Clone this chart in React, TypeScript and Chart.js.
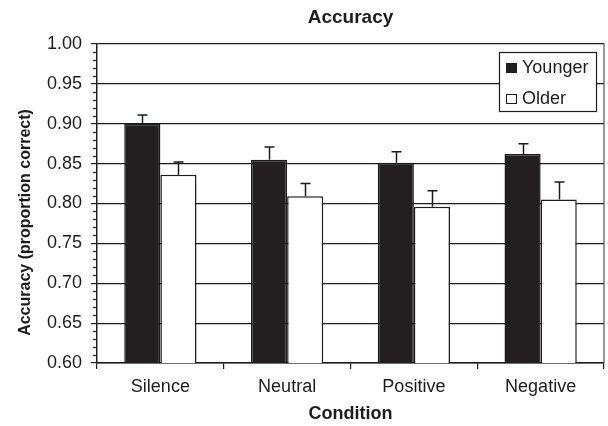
import React, { useEffect, useRef } from "react";
import { Chart, registerables } from "chart.js";

Chart.register(...registerables);

const categories = ["Silence", "Neutral", "Positive", "Negative"];
const youngerValues = [0.9, 0.855, 0.851, 0.862];
const olderValues = [0.836, 0.809, 0.796, 0.805];
const youngerErrors = [0.011, 0.016, 0.014, 0.013];
const olderErrors = [0.016, 0.016, 0.02, 0.022];
const seriesNames = ["Younger", "Older"];
const yMin = 0.6;
const yMax = 1.0;
const yStep = 0.05;

const FONT = "'Liberation Sans', Arial, Helvetica, sans-serif";
const INK = "#1c1c1c";

const errorBarsPlugin = {
  id: "errorBars",
  afterDatasetsDraw(chart: any) {
    const ctx = chart.ctx;
    const yScale = chart.scales.y;
    const errs = [youngerErrors, olderErrors];
    ctx.save();
    ctx.strokeStyle = INK;
    ctx.lineWidth = 1.5;
    chart.data.datasets.forEach((ds: any, i: number) => {
      const meta = chart.getDatasetMeta(i);
      meta.data.forEach((el: any, j: number) => {
        const v = ds.data[j];
        const top = yScale.getPixelForValue(v + errs[i][j]);
        const x = Math.round(el.x) + 0.5;
        ctx.beginPath();
        ctx.moveTo(x, el.y);
        ctx.lineTo(x, top);
        ctx.moveTo(x - 5, top);
        ctx.lineTo(x + 5, top);
        ctx.stroke();
      });
    });
    ctx.restore();
  },
};

const decorPlugin = {
  id: "decor",
  afterDraw(chart: any) {
    const ctx = chart.ctx;
    const area = chart.chartArea;
    const yScale = chart.scales.y;
    ctx.save();
    // minor ticks
    ctx.strokeStyle = INK;
    ctx.lineWidth = 1.2;
    for (let i = Math.round(yMin * 100); i <= Math.round(yMax * 100); i++) {
      if (i % 5 === 0) continue;
      const y = Math.round(yScale.getPixelForValue(i / 100)) + 0.5;
      ctx.beginPath();
      ctx.moveTo(area.left - 4, y);
      ctx.lineTo(area.left, y);
      ctx.stroke();
    }
    // right border
    ctx.strokeStyle = "#555";
    ctx.lineWidth = 1.2;
    ctx.beginPath();
    ctx.moveTo(area.right, area.top);
    ctx.lineTo(area.right, area.bottom);
    ctx.stroke();
    // y axis title
    ctx.fillStyle = INK;
    ctx.font = `bold 16px ${FONT}`;
    ctx.textAlign = "center";
    ctx.textBaseline = "middle";
    ctx.translate(26, (area.top + area.bottom) / 2 + 19);
    ctx.rotate(-Math.PI / 2);
    ctx.fillText("Accuracy (proportion correct)", 0, 0);
    ctx.restore();

    // legend
    ctx.save();
    const w = 97;
    const h = 59;
    const bx = area.right - 8 - w;
    const by = area.top + 8;
    ctx.fillStyle = "#fff";
    ctx.fillRect(bx, by, w, h);
    ctx.strokeStyle = INK;
    ctx.lineWidth = 1.2;
    ctx.strokeRect(bx + 0.5, by + 0.5, w, h);
    ctx.font = `18px ${FONT}`;
    ctx.textAlign = "left";
    ctx.textBaseline = "middle";
    chart.data.datasets.forEach((ds: any, i: number) => {
      const cy = by + 16 + i * 31;
      ctx.fillStyle = ds.backgroundColor;
      ctx.fillRect(bx + 7, cy - 5, 11, 10);
      ctx.strokeStyle = INK;
      ctx.lineWidth = 1;
      ctx.strokeRect(bx + 7.5, cy - 4.5, 10, 9);
      ctx.fillStyle = INK;
      ctx.fillText(ds.label, bx + 23, cy);
    });
    ctx.restore();
  },
};

export default function App() {
  const ref = useRef<HTMLCanvasElement | null>(null);
  useEffect(() => {
    document.body.style.margin = "0";
    if (!ref.current) return;
    const chart = new Chart(ref.current, {
      type: "bar",
      data: {
        labels: categories,
        datasets: [
          {
            label: seriesNames[0],
            data: youngerValues,
            backgroundColor: "#231f20",
            borderColor: INK,
            borderWidth: 1.5,
          },
          {
            label: seriesNames[1],
            data: olderValues,
            backgroundColor: "#ffffff",
            borderColor: INK,
            borderWidth: 1.5,
          },
        ],
      },
      options: {
        animation: false,
        responsive: false,
        devicePixelRatio: 1,
        layout: { padding: { top: 0, left: 0, right: 4, bottom: 0 } },
        datasets: { bar: { categoryPercentage: 0.57, barPercentage: 1.0 } },
        plugins: {
          legend: { display: false },
          tooltip: { enabled: false },
          title: {
            display: true,
            text: "Accuracy",
            fullSize: false,
            color: INK,
            font: { family: FONT, size: 19, weight: "bold" },
            padding: { top: 6, bottom: 15.2 },
          },
        },
        scales: {
          x: {
            grid: {
              display: true,
              drawOnChartArea: false,
              drawTicks: true,
              tickLength: 6,
              color: INK,
              lineWidth: 1.2,
              offset: true,
            },
            border: { display: true, color: INK, width: 1.5 },
            ticks: {
              color: INK,
              font: { family: FONT, size: 18 },
              padding: 7,
            },
            title: {
              display: true,
              text: "Condition",
              color: INK,
              font: { family: FONT, size: 18, weight: "bold" },
              padding: { top: 0, bottom: 1 },
            },
            afterFit: (scale: any) => {
              scale.height = 63;
            },
          },
          y: {
            min: yMin,
            max: yMax,
            grid: {
              color: INK,
              lineWidth: 1.2,
              tickLength: 6,
            },
            border: { display: true, color: INK, width: 1.5 },
            ticks: {
              stepSize: yStep,
              color: INK,
              font: { family: FONT, size: 18 },
              padding: 9,
              callback: (v: any) => Number(v).toFixed(2),
            },
            afterFit: (scale: any) => {
              scale.width = 97;
            },
          },
        },
      },
      plugins: [errorBarsPlugin, decorPlugin],
    });
    return () => chart.destroy();
  }, []);
  return (
    <div style={{ position: "absolute", left: 0, top: 0, width: 608, height: 426, background: "#fff" }}>
      <canvas ref={ref} width={608} height={426} style={{ width: 608, height: 426 }} />
    </div>
  );
}
